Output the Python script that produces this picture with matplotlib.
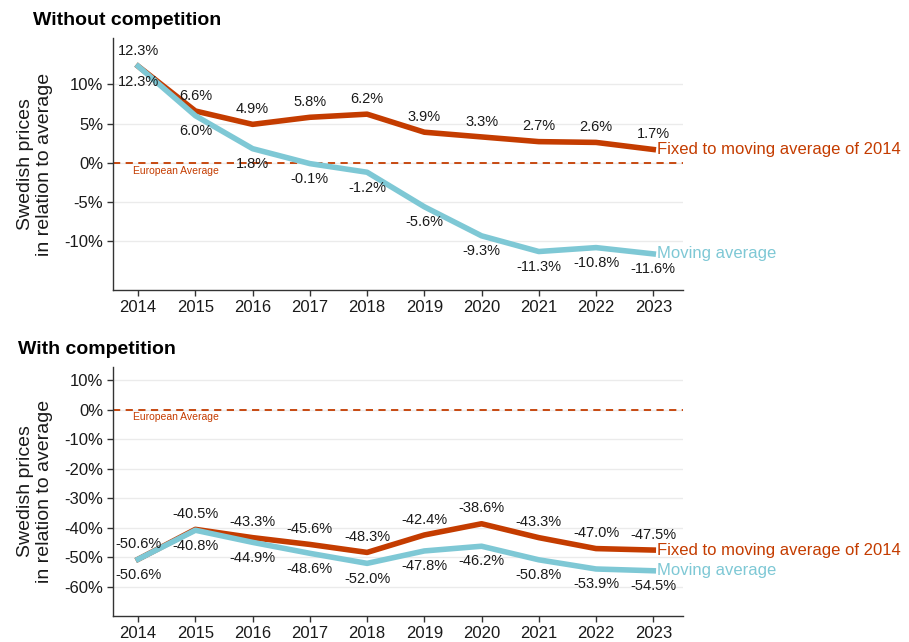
import matplotlib
matplotlib.use("Agg")
import matplotlib.pyplot as plt
from matplotlib.ticker import FuncFormatter

plt.rcParams["font.family"] = ["Liberation Sans", "DejaVu Sans"]

years = [2014, 2015, 2016, 2017, 2018, 2019, 2020, 2021, 2022, 2023]

# without competition
fixed_no_comp = [12.3, 6.6, 4.9, 5.8, 6.2, 3.9, 3.3, 2.7, 2.6, 1.7]
moving_no_comp = [12.3, 6.0, 1.8, -0.1, -1.2, -5.6, -9.3, -11.3, -10.8, -11.6]

# with competition
fixed_comp = [-50.6, -40.5, -43.3, -45.6, -48.3, -42.4, -38.6, -43.3, -47.0, -47.5]
moving_comp = [-50.6, -40.8, -44.9, -48.6, -52.0, -47.8, -46.2, -50.8, -53.9, -54.5]

top_ticks = [-10, -5, 0, 5, 10]
bottom_ticks = [-60, -50, -40, -30, -20, -10, 0, 10]

ORANGE = "#C43C00"
CYAN = "#7EC8D5"
TEXT = "#1a1a1a"


def pct(v, _pos=None):
    return f"{v:.0f}%"


def draw_panel(ax, fixed, moving, ticks, ylim, title, title_x):
    ax.set_xlim(2013.56, 2023.52)
    ax.set_ylim(*ylim)
    ax.set_yticks(ticks)
    ax.yaxis.set_major_formatter(FuncFormatter(pct))
    ax.set_xticks(years)
    ax.grid(axis="y", color="#EBEBEB", linewidth=1.0, zorder=0)
    ax.set_axisbelow(True)

    for side in ["top", "right"]:
        ax.spines[side].set_visible(False)
    for side in ["left", "bottom"]:
        ax.spines[side].set_color("#333333")
        ax.spines[side].set_linewidth(1.0)
    ax.tick_params(length=4, width=1.0, color="#333333", labelsize=12,
                   labelcolor=TEXT, pad=3)

    ax.axhline(0, color=ORANGE, linestyle=(0, (4, 3)), linewidth=1.3, zorder=1)
    ax.annotate("European Average", (2013.91, 0), xytext=(0, -2),
                textcoords="offset points", color=ORANGE, fontsize=7.5,
                ha="left", va="top")

    ax.plot(years, fixed, color=ORANGE, linewidth=4, solid_joinstyle="round", zorder=3)
    ax.plot(years, moving, color=CYAN, linewidth=4, solid_joinstyle="round", zorder=4)

    for x, v in zip(years, fixed):
        ax.annotate(f"{v:.1f}%", (x, v), xytext=(0, 11), textcoords="offset points",
                    ha="center", va="center", fontsize=10.5, color=TEXT, zorder=5)
    for x, v in zip(years, moving):
        ax.annotate(f"{v:.1f}%", (x, v), xytext=(0, -11), textcoords="offset points",
                    ha="center", va="center", fontsize=10.5, color=TEXT, zorder=5)

    ax.annotate("Fixed to moving average of 2014", (years[-1], fixed[-1]),
                xytext=(3, 0), textcoords="offset points", ha="left", va="center",
                fontsize=12, color=ORANGE, annotation_clip=False)
    ax.annotate("Moving average", (years[-1], moving[-1]),
                xytext=(3, 0), textcoords="offset points", ha="left", va="center",
                fontsize=12, color=CYAN, annotation_clip=False)

    ax.set_ylabel("Swedish prices\nin relation to average", fontsize=14,
                  color=TEXT, linespacing=1.2, labelpad=8)
    ax.set_title(title, fontsize=14, fontweight="bold", loc="left",
                 x=title_x, y=1.02, ha="left", color="black")


fig = plt.figure(figsize=(9.09, 6.42), dpi=100)
ax_top = fig.add_axes([0.1243, 0.5483, 0.6271, 0.3925])
ax_bot = fig.add_axes([0.1243, 0.0405, 0.6271, 0.3878])

draw_panel(ax_top, fixed_no_comp, moving_no_comp, top_ticks, (-16.2, 15.9),
           "Without competition", -0.14)
draw_panel(ax_bot, fixed_comp, moving_comp, bottom_ticks, (-69.8, 14.4),
           "With competition", -0.167)

fig.savefig("out.png", dpi=100)
